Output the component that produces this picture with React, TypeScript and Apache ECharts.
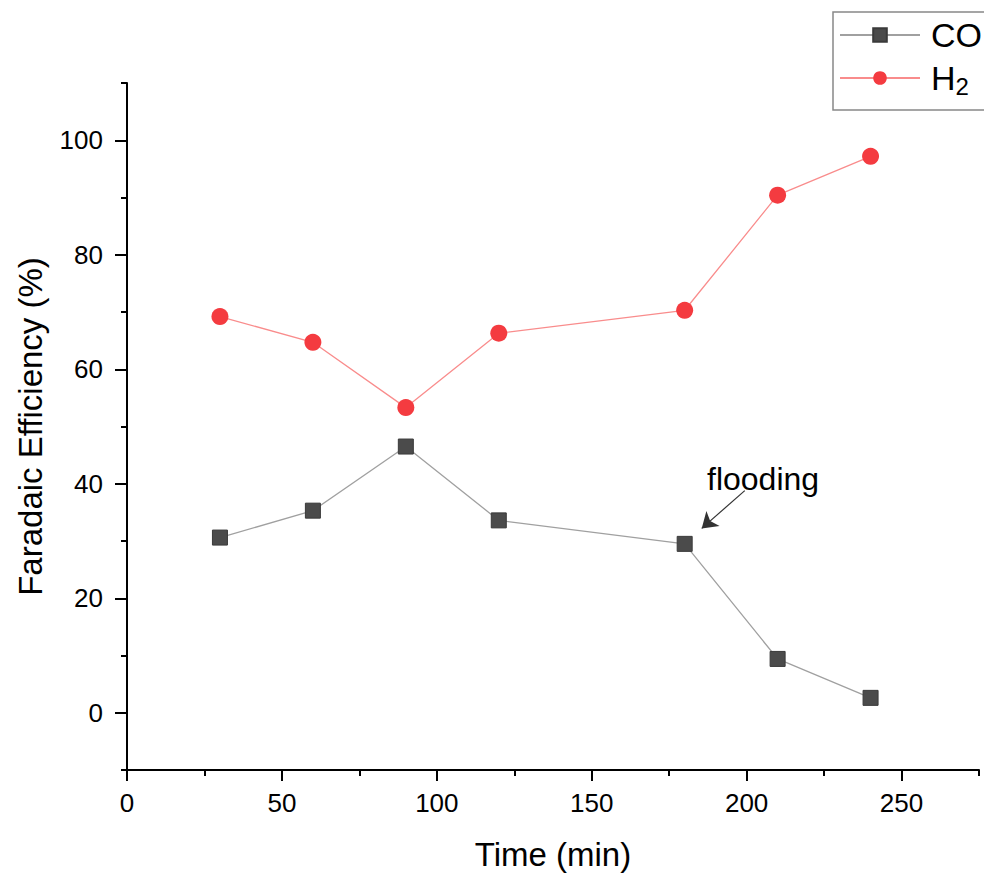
import React, { useEffect, useRef } from "react";
import * as echarts from "echarts";

const timeMin = [30, 60, 90, 120, 180, 210, 240];
const coFE = [30.6, 35.3, 46.5, 33.6, 29.5, 9.4, 2.6];
const h2FE = [69.2, 64.7, 53.3, 66.3, 70.3, 90.4, 97.2];
const xMajor = [0, 50, 100, 150, 200, 250];
const xMinor = [25, 75, 125, 175, 225, 275];
const yMajor = [0, 20, 40, 60, 80, 100];
const yMinor = [-10, 10, 30, 50, 70, 90, 110];
const arrowFrom = [199.4, 38.8];
const arrowTo = [185.5, 32.2];
const labelAt = [205.3, 40.8];

const FONT = "Liberation Sans, Arial, sans-serif";

export default function App() {
  const ref = useRef<HTMLDivElement>(null);
  useEffect(() => {
    if (!ref.current) return;
    document.body.style.margin = "0";
    document.body.style.overflow = "hidden";
    const chart = echarts.init(ref.current, undefined, { renderer: "svg" });
    const axisLine = { show: true, onZero: false, lineStyle: { color: "#000", width: 2 } };
    chart.setOption({
      animation: false,
      backgroundColor: "#fff",
      textStyle: { fontFamily: FONT },
      grid: { left: 127, right: 5, top: 83, bottom: 109, containLabel: false },
      graphic: [
        {
          type: "rect",
          x: 833,
          y: 12,
          shape: { x: 0, y: 0, width: 200, height: 98 },
          style: { fill: "none", stroke: "#888", lineWidth: 1.5 },
          silent: true,
        },
      ],
      legend: {
        left: 833,
        top: 12,
        orient: "vertical",
        itemWidth: 80,
        itemHeight: 17,
        itemGap: 9,
        padding: [6, 0, 12, 6],
        borderWidth: 0,
        textStyle: {
          fontSize: 34,
          color: "#000",
          fontFamily: FONT,
          padding: [0, 0, 0, 6],
          rich: {
            h: { fontSize: 34, fontFamily: FONT, color: "#000" },
            s: { fontSize: 24, fontFamily: FONT, color: "#000", padding: [16, 0, 0, 0] },
          },
        },
        formatter: (n: string) => (n === "H2" ? "{h|H}{s|2}" : n),
      },
      xAxis: [
        {
          type: "value",
          min: 0,
          max: 275,
          position: "bottom",
          name: "Time (min)",
          nameLocation: "middle",
          nameGap: 68,
          nameTextStyle: { fontSize: 33, color: "#000", fontFamily: FONT },
          axisLine,
          axisTick: { show: true, customValues: xMajor, length: 11, inside: false, lineStyle: { color: "#000", width: 2 } },
          axisLabel: { customValues: xMajor, fontSize: 26, color: "#000", margin: 20, fontFamily: FONT },
          splitLine: { show: false },
        },
        {
          type: "value",
          min: 0,
          max: 275,
          position: "bottom",
          axisLine: { show: false, onZero: false },
          axisTick: { show: true, customValues: xMinor, length: 6, inside: false, lineStyle: { color: "#000", width: 2 } },
          axisLabel: { show: false },
          splitLine: { show: false },
        },
      ],
      yAxis: [
        {
          type: "value",
          min: -10,
          max: 110,
          position: "left",
          name: "Faradaic Efficiency (%)",
          nameLocation: "middle",
          nameGap: 80,
          nameTextStyle: { fontSize: 33, color: "#000", fontFamily: FONT },
          axisLine,
          axisTick: { show: true, customValues: yMajor, length: 12, inside: false, lineStyle: { color: "#000", width: 2 } },
          axisLabel: { customValues: yMajor, fontSize: 26, color: "#000", margin: 24, fontFamily: FONT },
          splitLine: { show: false },
        },
        {
          type: "value",
          min: -10,
          max: 110,
          position: "left",
          axisLine: { show: false, onZero: false },
          axisTick: { show: true, customValues: yMinor, length: 6, inside: false, lineStyle: { color: "#000", width: 2 } },
          axisLabel: { show: false },
          splitLine: { show: false },
        },
      ],
      series: [
        {
          name: "CO",
          type: "line",
          xAxisIndex: 0,
          yAxisIndex: 0,
          data: timeMin.map((t, i) => [t, coFE[i]]),
          symbol: "rect",
          symbolSize: 15,
          itemStyle: { color: "#4b4b4b", borderColor: "#3a3a3a", borderWidth: 1 },
          lineStyle: { color: "#a0a0a0", width: 1.3 },
          z: 3,
          markLine: {
            silent: true,
            symbol: ["none", "arrow"],
            symbolSize: 15,
            label: { show: false },
            lineStyle: { color: "#333", width: 1.2, type: "solid" },
            itemStyle: { color: "#000" },
            data: [[{ coord: arrowFrom }, { coord: arrowTo }]],
          },
          markPoint: {
            silent: true,
            symbol: "circle",
            symbolSize: 1,
            itemStyle: { color: "rgba(0,0,0,0)" },
            label: { show: true, position: "inside", formatter: "flooding", color: "#000", fontSize: 32, fontFamily: FONT },
            data: [{ coord: labelAt }],
          },
        },
        {
          name: "H2",
          type: "line",
          xAxisIndex: 0,
          yAxisIndex: 0,
          data: timeMin.map((t, i) => [t, h2FE[i]]),
          symbol: "circle",
          symbolSize: 17,
          itemStyle: { color: "#f43b40" },
          lineStyle: { color: "#f98c8c", width: 1.3 },
          z: 3,
        },
      ],
    });
    return () => chart.dispose();
  }, []);
  return <div ref={ref} style={{ position: "fixed", left: 0, top: 0, width: 984, height: 879 }} />;
}
